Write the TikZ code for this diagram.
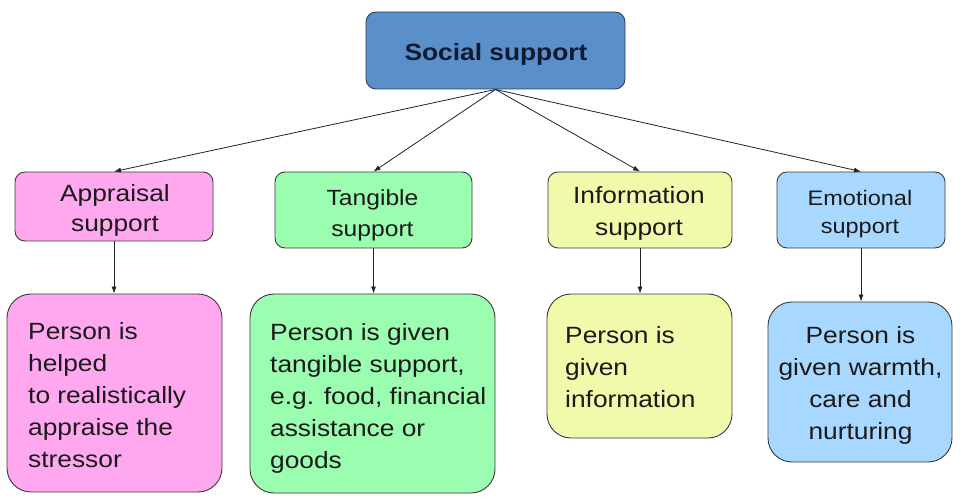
\documentclass[tikz,border=0pt]{standalone}
\usepackage{fontspec}
\setmainfont{Liberation Sans}[FakeStretch=1.12]
\usetikzlibrary{arrows.meta}
\definecolor{topblue}{HTML}{5B8FCA}
\definecolor{topline}{HTML}{2C3E55}
\definecolor{navy}{HTML}{0E1A30}
\definecolor{pinkf}{HTML}{FFA8F0}
\definecolor{greenf}{HTML}{9AFDB0}
\definecolor{yellowf}{HTML}{F0FAAA}
\definecolor{bluef}{HTML}{A8D8FF}
\definecolor{boxline}{HTML}{3A3A3A}
\definecolor{txt}{HTML}{1A1A1A}
\definecolor{arrowc}{HTML}{222222}
\tikzset{
  box/.style={draw=boxline, line width=0.9pt, rounded corners=10pt, inner sep=0pt},
  bigbox/.style={box, rounded corners=24pt},
  lbl/.style={inner sep=0pt, text=txt},
  conn/.style={draw=arrowc, line width=0.8pt, -{Latex[length=7pt,width=5pt]}}
}
\begin{document}
\begin{tikzpicture}[x=1pt,y=-1pt]
\useasboundingbox (0,0) rectangle (961,502);
% top
\node[box, draw=topline, fill=topblue, minimum width=259pt, minimum height=77pt] (top) at (495.5,50.5) {};
\node[inner sep=0pt, text=navy, font=\bfseries\fontsize{23.5}{28}\selectfont] (toptext) at (496,54) {Social support};
% middle boxes
\node[box, fill=pinkf, minimum width=198pt, minimum height=69pt] (app) at (114,206.5) {};
\node[box, fill=greenf, minimum width=197pt, minimum height=76pt] (tan) at (373.5,210) {};
\node[box, fill=yellowf, minimum width=184pt, minimum height=76pt] (inf) at (640,210) {};
\node[box, fill=bluef, minimum width=168pt, minimum height=76pt] (emo) at (861,210) {};
\node[lbl, align=center, font=\fontsize{23.5}{30}\selectfont] (apptext) at (115,210.7) {Appraisal\\support};
\node[lbl, align=center, font=\fontsize{22}{31.5}\selectfont] (tantext) at (372.5,215.2) {Tangible\\support};
\node[lbl, align=center, font=\fontsize{23.5}{32}\selectfont] (inftext) at (639,213) {Information\\support};
\node[lbl, align=center, font=\fontsize{21}{28}\selectfont] (emotext) at (860,213.6) {Emotional\\support};
% bottom boxes
\node[bigbox, fill=pinkf, minimum width=215pt, minimum height=198pt] (appd) at (114.5,393) {};
\node[bigbox, fill=greenf, minimum width=245pt, minimum height=199pt] (tand) at (372.5,393.5) {};
\node[bigbox, fill=yellowf, minimum width=185pt, minimum height=144pt] (infd) at (639.5,366) {};
\node[bigbox, fill=bluef, minimum width=184pt, minimum height=160pt] (emod) at (860,382) {};
\node[lbl, anchor=west, align=left, font=\fontsize{23.5}{32}\selectfont] (appdtext) at (28,395.5) {Person is\\helped\\to realistically\\appraise the\\stressor};
\node[lbl, anchor=west, align=left, font=\fontsize{23.5}{32}\selectfont] (tandtext) at (270,398) {Person is given\\tangible support,\\e.g. food, financial\\assistance or\\goods};
\node[lbl, anchor=west, align=left, font=\fontsize{23.5}{32}\selectfont] (infdtext) at (565,367.5) {Person is\\given\\information};
\node[lbl, align=center, font=\fontsize{23.5}{32}\selectfont] (emodtext) at (860.5,385) {Person is\\given warmth,\\care and\\nurturing};
% connectors
\draw[conn] (top.south) -- (app.north);
\draw[conn] (top.south) -- (tan.north);
\draw[conn] (top.south) -- (inf.north);
\draw[conn] (top.south) -- (emo.north);
\draw[conn] (app.south) -- (app.south |- appd.north);
\draw[conn] (tan.south) -- (tan.south |- tand.north);
\draw[conn] (inf.south) -- (inf.south |- infd.north);
\draw[conn] (emo.south) -- (emo.south |- emod.north);
\end{tikzpicture}
\end{document}
